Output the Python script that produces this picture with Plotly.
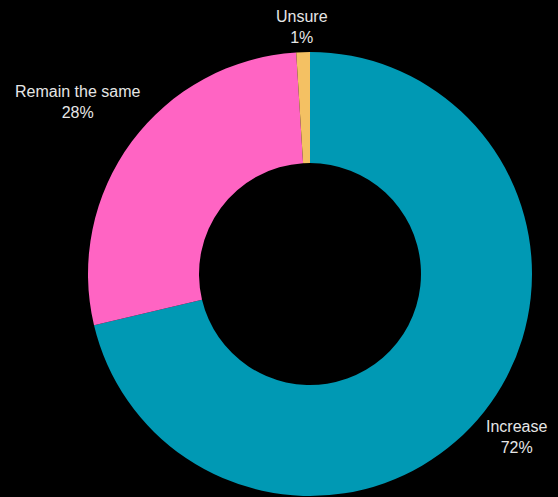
import math
import plotly.graph_objects as go

# Survey responses
categories = ["Increase", "Remain the same", "Unsure"]
values = [72, 28, 1]
colors = ["#0099B4", "#FF64C3", "#F4C163"]

W, H = 558, 497
margin = dict(l=88, r=26, t=52, b=1)
plot_w = W - margin["l"] - margin["r"]
plot_h = H - margin["t"] - margin["b"]
radius = min(plot_w, plot_h) / 2
label_gap = 6      # px between the ring and the label box
font_size = 16
text_h = 36        # visible height of a two-line label, px

# Arial / Liberation Sans advance widths (per 1000 em)
ADV = {
    "I": 278, "R": 722, "U": 722, " ": 278, "%": 889,
    "a": 556, "c": 500, "e": 556, "h": 556, "i": 222, "m": 833,
    "n": 556, "r": 333, "s": 500, "t": 278, "u": 556,
}


def text_width(s):
    return sum(ADV.get(ch, 556) for ch in s) * font_size / 1000


fig = go.Figure(
    go.Pie(
        labels=categories,
        values=values,
        hole=0.5,
        sort=False,
        direction="clockwise",
        rotation=0,
        marker=dict(colors=colors, line=dict(width=0)),
        textinfo="none",
        showlegend=False,
        hoverinfo="label+value",
    )
)

# Outside labels centred on each slice's mid-angle ray, pushed clear of the ring
total = sum(values)
cum = 0
annotations = []
for cat, val in zip(categories, values):
    mid = (cum + val / 2) / total * 2 * math.pi
    cum += val
    sx, cy = math.sin(mid), math.cos(mid)
    line1, line2 = cat, f"{val}%"
    w = max(text_width(line1), text_width(line2))
    d = radius + label_gap + (w / 2) * abs(sx) + (text_h / 2) * abs(cy)
    annotations.append(
        dict(
            x=0.5 + d * sx / plot_w,
            y=0.5 + d * cy / plot_h,
            xref="paper", yref="paper",
            text=f"{line1}<br>{line2}",
            showarrow=False,
            xanchor="center", yanchor="middle",
            align="center",
            font=dict(family="Liberation Sans, Arial, sans-serif", size=font_size, color="#E6E6E6"),
        )
    )

fig.update_layout(
    width=W,
    height=H,
    paper_bgcolor="#000000",
    plot_bgcolor="#000000",
    margin=margin,
    annotations=annotations,
)

fig.write_html("out.html")
